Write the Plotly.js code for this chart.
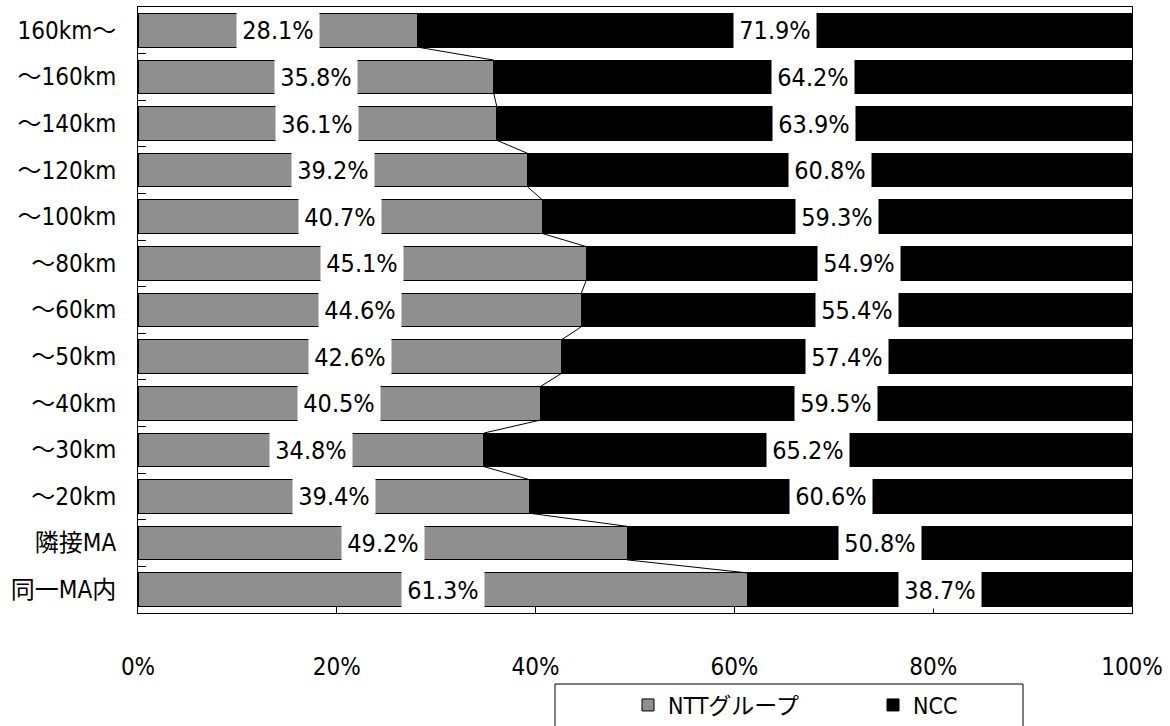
<!DOCTYPE html>
<html>
<head>
<meta charset="utf-8">
<script src="https://cdn.plot.ly/plotly-3.0.1.min.js"></script>
<style>html,body{margin:0;padding:0;background:#fff;}#chart{width:1170px;height:726px;}</style>
</head>
<body>
<div id="chart"></div>
<script>
const categories = ['160km〜','〜160km','〜140km','〜120km','〜100km','〜80km','〜60km','〜50km','〜40km','〜30km','〜20km','隣接MA','同一MA内'];
const nttValues = [28.1,35.8,36.1,39.2,40.7,45.1,44.6,42.6,40.5,34.8,39.4,49.2,61.3];
const nccValues = [71.9,64.2,63.9,60.8,59.3,54.9,55.4,57.4,59.5,65.2,60.6,50.8,38.7];
const seriesNames = ['NTTグループ','NCC'];
const xTicks = [0,20,40,60,80,100];

const FONT = "'DejaVu Sans Condensed', 'Noto Sans CJK JP', sans-serif";
const idx = categories.map((c,i)=>i);
const half = 0.36;

const ntt = {
  type:'bar', orientation:'h', name:seriesNames[0], y:idx, x:nttValues, width:half*2,
  marker:{color:'#ffffff', line:{color:'#000', width:1},
    pattern:{shape:'.', size:2, solidity:0.5, fgcolor:'#000', bgcolor:'#fff', fillmode:'replace'}},
  hoverinfo:'skip'
};
const ncc = {
  type:'bar', orientation:'h', name:seriesNames[1], y:idx, x:nccValues, width:half*2,
  marker:{color:'#000', line:{color:'#000', width:1}}, hoverinfo:'skip'
};
const lx=[], ly=[];
for(let i=0;i<nttValues.length-1;i++){
  lx.push(nttValues[i], nttValues[i+1], null);
  ly.push(i+half, i+1-half, null);
}
const conn = {type:'scatter', mode:'lines', x:lx, y:ly, line:{color:'#000', width:1}, showlegend:false, hoverinfo:'skip', yaxis:'y'};
const boundary = {type:'scatter', mode:'markers', x:[null], y:[null], yaxis:'y2', showlegend:false, hoverinfo:'skip'};

const annotations = [];
idx.forEach(i=>{
  annotations.push({x:nttValues[i]/2, y:i, xref:'x', yref:'y', text:nttValues[i].toFixed(1)+'%', showarrow:false,
    bgcolor:'#fff', width:82, height:36, borderpad:0, font:{family:FONT, size:25, color:'#000'}});
  annotations.push({x:nttValues[i]+nccValues[i]/2, y:i, xref:'x', yref:'y', text:nccValues[i].toFixed(1)+'%', showarrow:false,
    bgcolor:'#fff', width:82, height:36, borderpad:0, font:{family:FONT, size:25, color:'#000'}});
});

const plotW = 994, plotH = 606;
const layout = {
  width:1170, height:726,
  margin:{l:138, r:38, t:7, b:113, autoexpand:false},
  paper_bgcolor:'#fff', plot_bgcolor:'#fff',
  barmode:'stack', bargap:0.28,
  font:{family:FONT, color:'#000', size:25},
  xaxis:{range:[0,100], tickvals:xTicks, ticktext:xTicks.map(v=>v+'%'), ticks:'inside', ticklen:6, tickcolor:'#000',
    showgrid:false, zeroline:false, showline:true, linecolor:'#000', linewidth:1, mirror:true,
    ticklabelstandoff:32, tickfont:{family:FONT, size:24, color:'#000'}},
  yaxis:{range:[12.5,-0.5], tickvals:idx, ticktext:categories, ticks:'', showgrid:false, zeroline:false,
    showline:true, linecolor:'#000', linewidth:1, mirror:true, ticklabelstandoff:16,
    tickfont:{family:FONT, size:24, color:'#000'}},
  yaxis2:{overlaying:'y', side:'left', anchor:'x', range:[12.5,-0.5],
    tickvals:idx.concat([idx.length]).map(v=>v-0.5), ticks:'inside', ticklen:8, tickcolor:'#000',
    showticklabels:false, showgrid:false, zeroline:false, showline:false},
  showlegend:true,
  legend:{orientation:'h', x:(628-138)/plotW, xanchor:'left', y:-(705-613)/plotH, yanchor:'middle',
    bgcolor:'rgba(0,0,0,0)', borderwidth:0, entrywidth:200, traceorder:'normal',
    font:{family:FONT, size:23, color:'#000'}, itemclick:false},
  shapes:[{type:'rect', xref:'paper', yref:'paper', x0:(555-138)/plotW, x1:(1023-138)/plotW,
    y0:-(760-613)/plotH, y1:-(684-613)/plotH, line:{color:'#000', width:1}, fillcolor:'rgba(0,0,0,0)', layer:'above'}],
  annotations:annotations
};
Plotly.newPlot('chart', [ntt, ncc, conn, boundary], layout, {staticPlot:true, displayModeBar:false});
</script>
</body>
</html>
